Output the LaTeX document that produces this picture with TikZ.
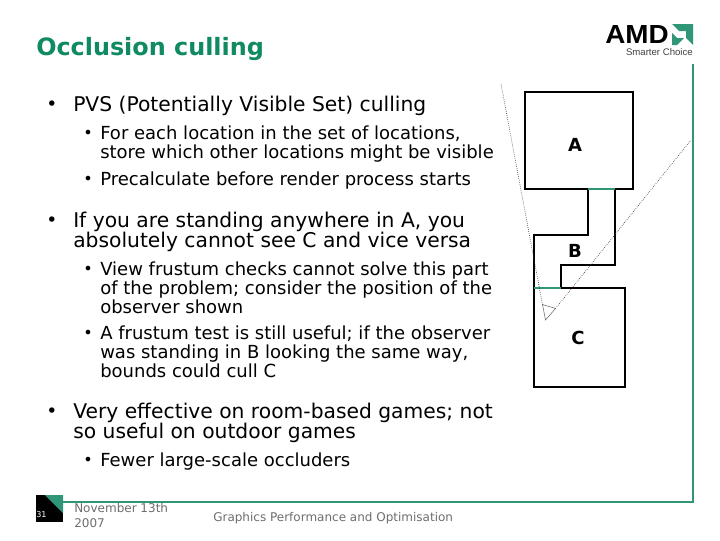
\documentclass[tikz,border=0pt]{standalone}
\usepackage{fontspec}
\setmainfont{DejaVu Sans}
\newfontfamily\logofont{Liberation Sans}
\usepackage{tikz}
\usetikzlibrary{positioning}
\definecolor{amdgreen}{HTML}{2F9678}
\definecolor{titlegreen}{HTML}{0F8A63}
\definecolor{footgrey}{HTML}{6E6E6E}

\begin{document}
\begin{tikzpicture}[
		x=.75pt, y=-.75pt,
		levelone/.style = {anchor=north west, inner sep=0pt, align=left, font=\fontsize{15.2}{15}\selectfont},
		leveltwo/.style = {anchor=north west, inner sep=0pt, align=left, font=\fontsize{13.5}{14.1}\selectfont},
		bulletone/.style = {inner sep=0pt, font=\fontsize{14}{14}\selectfont},
		bullettwo/.style = {inner sep=0pt, font=\fontsize{12}{12}\selectfont},
		room/.style = {draw, line width=1.5pt, line join=miter},
		portal/.style = {draw=amdgreen, line width=1.5pt},
		sight/.style = {draw=black!75, densely dotted, line width=.5pt},
		roomlabel/.style = {inner sep=0pt, font=\fontsize{13.5}{14}\selectfont\bfseries},
		foot/.style = {anchor=north west, inner sep=0pt, align=left, text=footgrey, font=\fontsize{9}{11.2}\selectfont}
	]
	\useasboundingbox (0,0) rectangle (720,540);
	\fill[white] (0,0) rectangle (720,540);

	% Title and logo.
	\node[anchor=west, inner sep=0pt, text=titlegreen, font=\fontsize{17.9}{18}\selectfont\bfseries] (title) at (36,49) {Occlusion culling};
	\node[anchor=west, inner sep=0pt, font=\logofont\bfseries] (amd) at (605,34.5) {\resizebox{47.5pt}{13.5pt}{AMD}};
	\node[anchor=east, inner sep=0pt, text=black!75, font=\logofont\fontsize{7.2}{7.5}\selectfont] (choice) at (693,52) {Smarter Choice};
	\fill[amdgreen] (672,24) -- (693,24) -- (693,45) -- (686,38) -- (686,31) -- (679,31) -- cycle;
	\fill[amdgreen] (672,45) -- (672,33) -- (677,38) -- (684,38) -- (677,45) -- cycle;

	% Frame.
	\draw[amdgreen, line width=1.5pt] (693,64) -- (693,502) -- (63,502);
	\fill[black] (36,495) rectangle (63,522);
	\fill[amdgreen] (45,495) -- (63,495) -- (63,513) -- cycle;
	\node[inner sep=0pt, text=white, font=\fontsize{6}{6}\selectfont] (page) at (41.5,515) {31};

	% First block.
	\node[levelone] (pvs) at (73,96) {PVS (Potentially Visible Set) culling};
	\node[bulletone] at (52,106) {•};
	\node[leveltwo] (each) at (100,126) {For each location in the set of locations,\\store which other locations might be visible};
	\node[bullettwo] at (88,134) {•};
	\node[leveltwo] (pre) at (100,172) {Precalculate before render process starts};
	\node[bullettwo] at (88,180) {•};

	% Second block.
	\node[levelone] (standing) at (73,212) {If you are standing anywhere in A, you\\absolutely cannot see C and vice versa};
	\node[bulletone] at (52,222) {•};
	\node[leveltwo] (frustum) at (100,262) {View frustum checks cannot solve this part\\of the problem; consider the position of the\\observer shown};
	\node[bullettwo] at (88,270) {•};
	\node[leveltwo] (test) at (100,326) {A frustum test is still useful; if the observer\\was standing in B looking the same way,\\bounds could cull C};
	\node[bullettwo] at (88,334) {•};

	% Third block.
	\node[levelone] (rooms) at (73,403) {Very effective on room-based games; not\\so useful on outdoor games};
	\node[bulletone] at (52,413) {•};
	\node[leveltwo] (fewer) at (100,453) {Fewer large-scale occluders};
	\node[bullettwo] at (88,461) {•};

	% Footer.
	\node[foot] (date) at (74,503) {November 13th\\2007};
	\node[foot, anchor=west] (talk) at (213,518) {Graphics Performance and Optimisation};

	% Rooms.
	\draw[room] (588,189) -- (525,189) -- (525,92) -- (633,92) -- (633,189) -- (615,189) -- (615,265) -- (561,265) -- (561,288) -- (625,288) -- (625,387) -- (534,387) -- (534,235) -- (588,235) -- cycle;
	\draw[portal] (588,189) -- (615,189);
	\draw[portal] (534,288) -- (561,288);
	\node[roomlabel] (a) at (575,145) {A};
	\node[roomlabel] (b) at (575,251) {B};
	\node[roomlabel] (c) at (578,338) {C};

	% Observer.
	\coordinate (eye) at (545.5,320);
	\coordinate (near1) at (542.5,304.5);
	\coordinate (near2) at (555.5,308.5);
	\coordinate (far1) at (501,84);
	\coordinate (far2) at (691,140);
	\draw[draw=black!60, line width=.4pt] (near1) -- (eye) -- (near2) -- cycle;
	\draw[sight] (near1) -- (far1);
	\draw[sight] (near2) -- (far2);
\end{tikzpicture}
\end{document}
